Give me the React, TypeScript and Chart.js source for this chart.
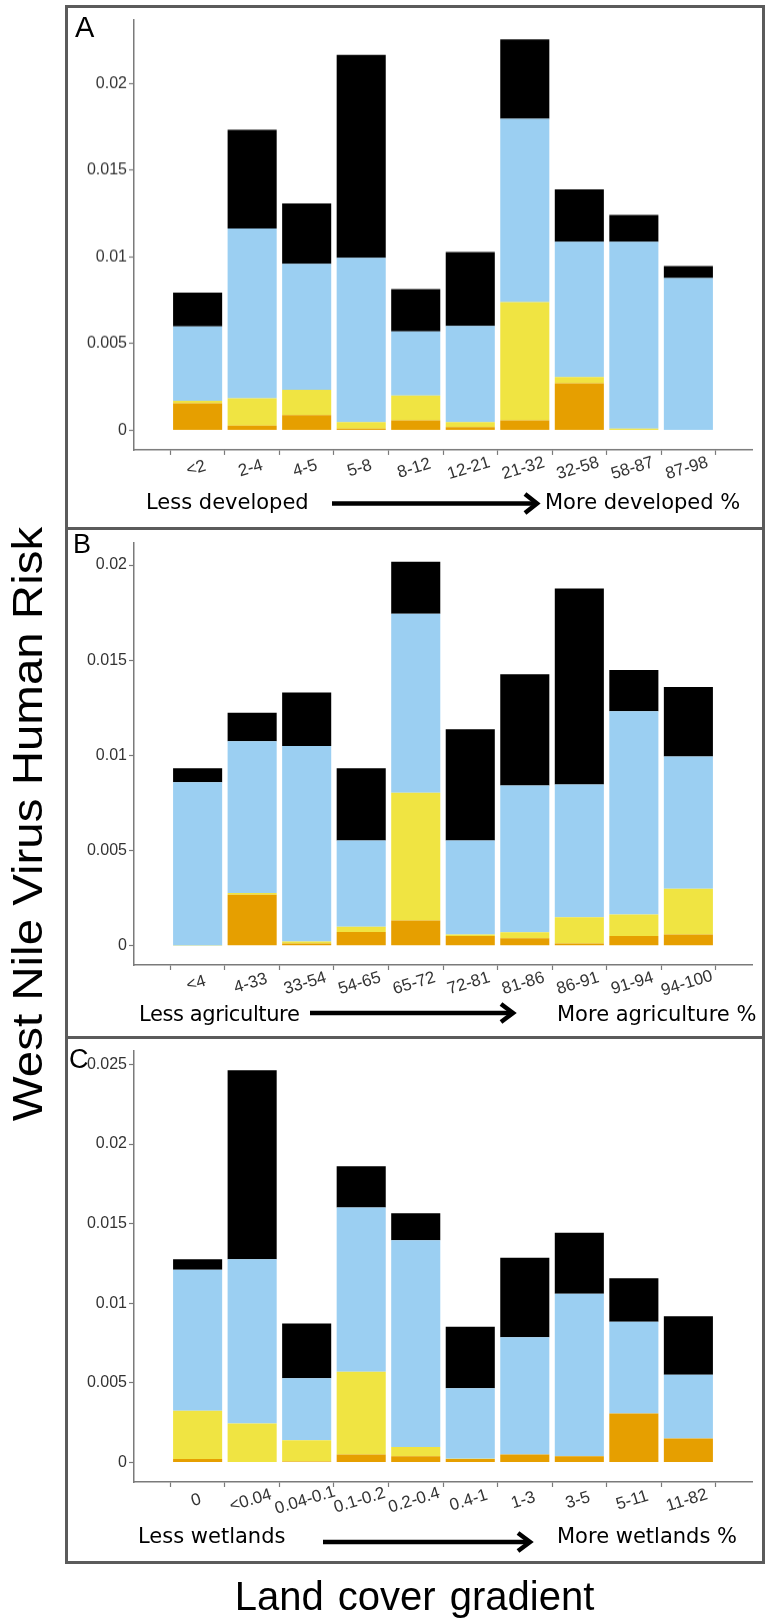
import React, { useEffect, useRef } from "react";
import { Chart, registerables } from "chart.js";

Chart.register(...registerables);

// ---------- Panel A: developed land ----------
const devLabels = ["<2", "2-4", "4-5", "5-8", "8-12", "12-21", "21-32", "32-58", "58-87", "87-98"];
const devOrange = [0.00156, 0.00027, 0.00088, 0.0001, 0.00057, 0.00018, 0.00057, 0.00271, 0, 0];
const devYellow = [0.00014, 0.00157, 0.00146, 0.00037, 0.00143, 0.00029, 0.00683, 0.00036, 0.0001, 0];
const devBlue = [0.0043, 0.0098, 0.00726, 0.00949, 0.0037, 0.00556, 0.01057, 0.00781, 0.01078, 0.00879];
const devBlack = [0.00195, 0.0057, 0.00349, 0.0117, 0.00244, 0.00426, 0.00459, 0.00302, 0.00154, 0.00068];
const devYTicks = [0, 0.005, 0.01, 0.015, 0.02];

// ---------- Panel B: agriculture ----------
const agrLabels = ["<4", "4-33", "33-54", "54-65", "65-72", "72-81", "81-86", "86-91", "91-94", "94-100"];
const agrOrange = [0, 0.00268, 0.00012, 0.00073, 0.00133, 0.00052, 0.0004, 0.00012, 0.00052, 0.00059];
const agrYellow = [0.00002, 0.00009, 0.0001, 0.00027, 0.00671, 0.00007, 0.00031, 0.00138, 0.00112, 0.0024];
const agrBlue = [0.00857, 0.00798, 0.01027, 0.00453, 0.0094, 0.00494, 0.00771, 0.00697, 0.01068, 0.00695];
const agrBlack = [0.00073, 0.00149, 0.00282, 0.0038, 0.00273, 0.00584, 0.00584, 0.0103, 0.00217, 0.00366];
const agrYTicks = [0, 0.005, 0.01, 0.015, 0.02];

// ---------- Panel C: wetlands ----------
const wetLabels = ["0", "<0.04", "0.04-0.1", "0.1-0.2", "0.2-0.4", "0.4-1", "1-3", "3-5", "5-11", "11-82"];
const wetOrange = [0.00021, 0, 0.00006, 0.0005, 0.00038, 0.00021, 0.0005, 0.00038, 0.00308, 0.0015];
const wetYellow = [0.00304, 0.00245, 0.00133, 0.00519, 0.00059, 0.00002, 0, 0, 0, 0];
const wetBlue = [0.00885, 0.01032, 0.0039, 0.01033, 0.01298, 0.00443, 0.00736, 0.01022, 0.00575, 0.004];
const wetBlack = [0.00067, 0.01187, 0.00344, 0.00259, 0.00171, 0.00386, 0.005, 0.00382, 0.00274, 0.00369];
const wetYTicks = [0, 0.005, 0.01, 0.015, 0.02, 0.025];

const ORANGE = "#E69F00";
const YELLOW = "#F0E442";
const BLUE = "#9BCFF2";
const BLACK = "#000000";
const AXIS = "#7a7a7a";
const TICK = "#333333";
const FONT = '"Liberation Sans", Arial, sans-serif';
const LABEL_FONT = '"DejaVu Sans", "Liberation Sans", sans-serif';

type PanelCfg = {
  labels: string[];
  orange: number[];
  yellow: number[];
  blue: number[];
  black: number[];
  yTicks: number[];
  yMin: number;
  yMax: number;
  canvasTop: number;
  areaTop: number;
  areaBottom: number;
};

const panels: PanelCfg[] = [
  { labels: devLabels, orange: devOrange, yellow: devYellow, blue: devBlue, black: devBlack, yTicks: devYTicks, yMin: -0.00113, yMax: 0.02369, canvasTop: 8, areaTop: 19, areaBottom: 449.6 },
  { labels: agrLabels, orange: agrOrange, yellow: agrYellow, blue: agrBlue, black: agrBlack, yTicks: agrYTicks, yMin: -0.00101, yMax: 0.02118, canvasTop: 531, areaTop: 541.5, areaBottom: 965 },
  { labels: wetLabels, orange: wetOrange, yellow: wetYellow, blue: wetBlue, black: wetBlack, yTicks: wetYTicks, yMin: -0.00123, yMax: 0.02587, canvasTop: 1039, areaTop: 1049, areaBottom: 1482 },
];

const CANVAS_LEFT = 68;
const CANVAS_WIDTH = 694;
const X_SCALE_H = 45;

function xLabelPlugin(labels: string[]) {
  return {
    id: "rotLabels",
    afterDraw(chart: any) {
      const ctx = chart.ctx;
      const xs = chart.scales.x;
      ctx.save();
      ctx.font = `17px ${FONT}`;
      ctx.fillStyle = TICK;
      ctx.textAlign = "center";
      ctx.textBaseline = "middle";
      labels.forEach((lab, i) => {
        const x = xs.getPixelForValue(i) - 1.5;
        const y = xs.top + 18.5;
        ctx.save();
        ctx.translate(x, y);
        ctx.rotate((-17 * Math.PI) / 180);
        ctx.fillText(lab, 0, 0);
        ctx.restore();
      });
      ctx.restore();
    },
  };
}

function Panel({ cfg }: { cfg: PanelCfg }) {
  const ref = useRef<HTMLCanvasElement>(null);
  const height = cfg.areaBottom + X_SCALE_H - cfg.canvasTop;
  useEffect(() => {
    const c = ref.current!;
    const idx = cfg.labels.map((_, i) => i);
    const mk = (vals: number[], color: string) => ({
      data: vals.map((v, i) => ({ x: i, y: v })),
      backgroundColor: color,
      borderWidth: 0,
      barPercentage: 0.9,
      categoryPercentage: 1,
    });
    const chart = new Chart(c, {
      type: "bar",
      data: {
        datasets: [mk(cfg.orange, ORANGE), mk(cfg.yellow, YELLOW), mk(cfg.blue, BLUE), mk(cfg.black, BLACK)] as any,
      },
      options: {
        animation: false,
        responsive: false,
        devicePixelRatio: 1,
        layout: { padding: { top: cfg.areaTop - cfg.canvasTop, right: 10, left: 0, bottom: 0 } },
        plugins: { legend: { display: false }, tooltip: { enabled: false } },
        scales: {
          x: {
            type: "linear",
            stacked: true,
            min: -0.6,
            max: cfg.labels.length - 0.4,
            afterBuildTicks: (s: any) => {
              s.ticks = idx.map((v) => ({ value: v }));
            },
            afterFit: (s: any) => {
              s.height = X_SCALE_H;
            },
            ticks: { display: false },
            grid: { drawOnChartArea: false, drawTicks: true, tickLength: 5, tickColor: AXIS, tickWidth: 1.2 },
            border: { display: true, color: AXIS, width: 1.5 },
          },
          y: {
            type: "linear",
            stacked: true,
            min: cfg.yMin,
            max: cfg.yMax,
            afterBuildTicks: (s: any) => {
              s.ticks = cfg.yTicks.map((v) => ({ value: v }));
            },
            afterFit: (s: any) => {
              s.width = 66;
            },
            ticks: {
              color: TICK,
              padding: 2,
              font: { size: 16, family: FONT },
              callback: (v: any) => String(v),
            },
            grid: { drawOnChartArea: false, drawTicks: true, tickLength: 5, tickColor: AXIS, tickWidth: 1.2 },
            border: { display: true, color: AXIS, width: 1.5 },
          },
        },
      } as any,
      plugins: [xLabelPlugin(cfg.labels)],
    });
    return () => chart.destroy();
  }, []);
  return (
    <canvas
      ref={ref}
      width={CANVAS_WIDTH}
      height={height}
      style={{ position: "absolute", left: CANVAS_LEFT, top: cfg.canvasTop, width: CANVAS_WIDTH, height }}
    />
  );
}

const frameStyle = (top: number, height: number): React.CSSProperties => ({
  position: "absolute",
  left: 65,
  top,
  width: 700,
  height,
  border: "3px solid #5b5b5b",
  boxSizing: "border-box",
});

const txt = (left: number, top: number, size: number, family: string, ls = 0): React.CSSProperties => ({
  position: "absolute",
  left,
  top,
  fontSize: size,
  lineHeight: `${size}px`,
  fontFamily: family,
  letterSpacing: ls,
  color: "#000",
  whiteSpace: "nowrap",
});

export default function App() {
  return (
    <div style={{ position: "absolute", left: 0, top: 0, width: 768, height: 1621, background: "#fff", overflow: "hidden" }}>
      <div style={frameStyle(5, 525)} />
      <div style={frameStyle(527, 512)} />
      <div style={frameStyle(1036, 528)} />

      {panels.map((p, i) => (
        <Panel key={i} cfg={p} />
      ))}

      <div style={txt(75, 13.2, 29, FONT)}>A</div>
      <div style={txt(73, 530.5, 27, FONT)}>B</div>
      <div style={txt(69, 1045.5, 27, FONT)}>C</div>

      <div style={txt(146, 492, 21, LABEL_FONT)}>Less developed</div>
      <div style={txt(545, 492, 21, LABEL_FONT)}>More developed %</div>
      <div style={txt(139, 1004, 21, LABEL_FONT, -0.4)}>Less agriculture</div>
      <div style={txt(557, 1004, 21, LABEL_FONT)}>More agriculture %</div>
      <div style={txt(138, 1526, 21, LABEL_FONT)}>Less wetlands</div>
      <div style={txt(557, 1526, 21, LABEL_FONT)}>More wetlands %</div>

      <svg width={768} height={1621} style={{ position: "absolute", left: 0, top: 0, pointerEvents: "none" }}>
        <g stroke="#000" strokeWidth={4.5} fill="none">
          <line x1={332} y1={503.5} x2={535} y2={503.5} />
          <polyline points="525,494 537,503.5 525,513" />
          <line x1={310} y1={1013} x2={511} y2={1013} />
          <polyline points="501,1004 513,1013 501,1022" />
          <line x1={323} y1={1542} x2={528} y2={1542} />
          <polyline points="518,1533 530,1542 518,1551" />
        </g>
      </svg>

      <div
        style={{
          position: "absolute",
          left: 27.5 - 350,
          top: 824 - 22,
          width: 700,
          height: 44,
          lineHeight: "44px",
          fontSize: 42,
          fontFamily: FONT,
          textAlign: "center",
          transform: "rotate(-90deg) scaleX(1.13)",
          whiteSpace: "nowrap",
          color: "#000",
        }}
      >
        West Nile Virus Human Risk
      </div>
      <div
        style={{
          position: "absolute",
          left: 414.5 - 300,
          top: 1576,
          width: 600,
          fontSize: 40,
          lineHeight: "40px",
          fontFamily: FONT,
          textAlign: "center",
          wordSpacing: 3,
          whiteSpace: "nowrap",
          color: "#000",
        }}
      >
        Land cover gradient
      </div>
    </div>
  );
}
